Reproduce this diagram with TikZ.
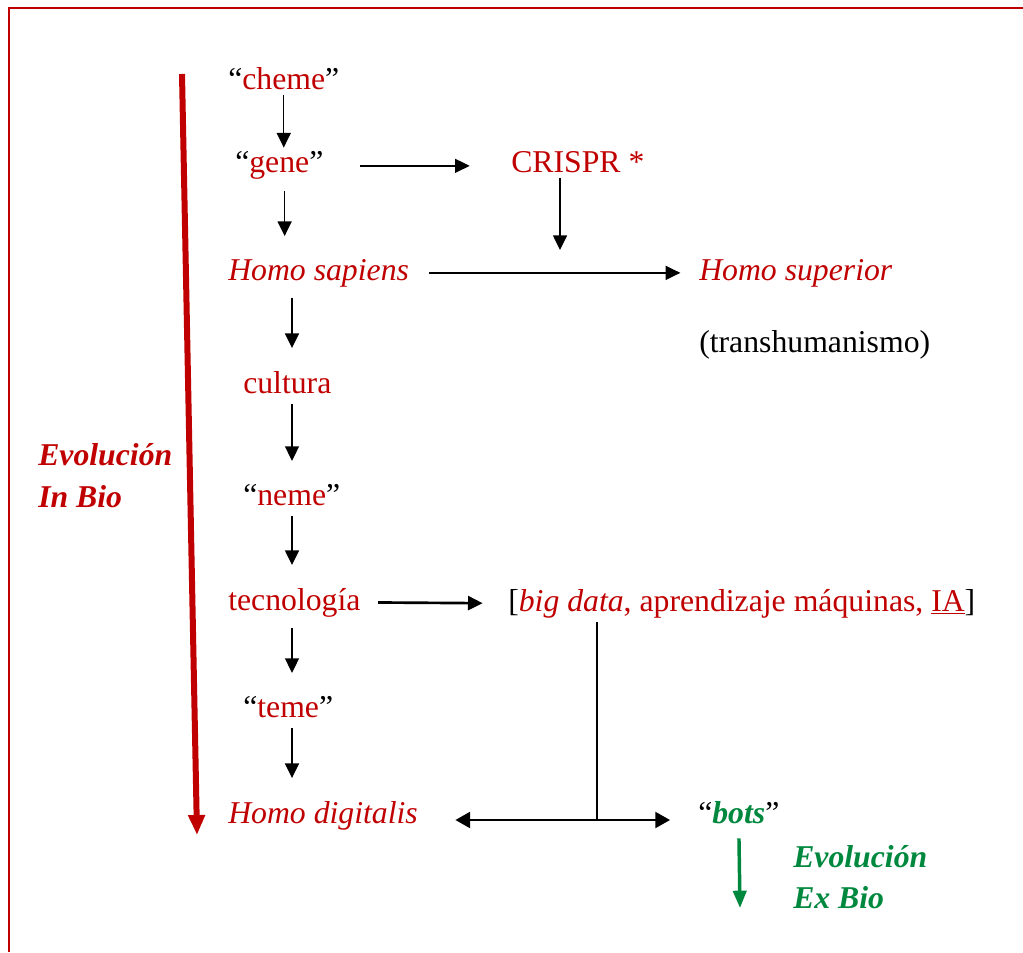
\documentclass[tikz,border=0pt]{standalone}
\usepackage{fontspec}
\setmainfont{Liberation Serif}
\usepackage{xcolor}
\usetikzlibrary{positioning,arrows.meta,calc}

\definecolor{inred}{RGB}{192,0,0}
\definecolor{exgreen}{RGB}{0,136,62}

\begin{document}
\begin{tikzpicture}[
		x=0.75pt,y=-0.75pt,
		every node/.style={
			inner sep=3pt,
			anchor=base west,
			font=\fontsize{23.8}{28}\selectfont
		},
		term/.style={text=inred},
		quoted/.style={text=black},
		evo/.style={font=\fontsize{23.8}{28}\selectfont\bfseries\itshape},
		arr/.style={-{Triangle[length=11pt,width=10.5pt]},line width=1.1pt},
		downarr/.style={arr,shorten <=5pt,shorten >=14pt},
		twoarr/.style={{Triangle[length=11pt,width=12pt]}-{Triangle[length=11pt,width=12pt]},line width=1.5pt}
		]
		
		\useasboundingbox (0,0) rectangle (1023,952);
		\draw[inred,line width=1.1pt] (9,952) -- (9,8) -- (1023,8);
		
		% main column
		\node[quoted] (cheme) at (224,90) {“\textcolor{inred}{cheme}”};
		\node[quoted] (gene) at (231,173) {“\textcolor{inred}{gene}”};
		\node[term] (sap) at (224,280) {\itshape Homo sapiens};
		\node[term] (cult) at (239,393) {cultura};
		\node[quoted] (neme) at (239,505) {“\textcolor{inred}{neme}”};
		\node[term] (tec) at (224,610) {tecnología};
		\node[quoted] (teme) at (239,717) {“\textcolor{inred}{teme}”};
		\node[term] (dig) at (224,823) {\itshape Homo digitalis};
		
		% right side
		\node[term] (crispr) at (507,173) {CRISPR *};
		\node[term] (sup) at (695,280) {\itshape Homo superior};
		\node (trans) at (695,352) {(transhumanismo)};
		\node[term] (bd) at (504,611)
		{\textcolor{black}{[}\textit{big data}, aprendizaje máquinas, \underline{IA}\textcolor{black}{]}};
		\node[quoted] (bots) at (694,823) {“\textcolor{exgreen}{\bfseries\itshape bots}”};
		
		% labels
		\node[evo,text=inred] (inbio) at (34,465) {Evolución};
		\node[evo,text=inred] (inbiob) at (34,507) {In Bio};
		\node[evo,text=exgreen] (exbio) at (789,867) {Evolución};
		\node[evo,text=exgreen] (exbiob) at (789,908) {Ex Bio};
		
		\coordinate (intop) at (182,74);
		\coordinate (inend) at (197,835);
		\coordinate (col) at (292,0);
		\coordinate (meet) at (560,250);
		\coordinate (fork) at (597,820);
		\coordinate (exend) at (740,908);
		
		\draw[inred,line width=4.5pt,-{Triangle[length=15pt,width=12pt]}] (intop)--(inend);
		\draw[exgreen,line width=2.6pt,-{Triangle[length=13pt,width=10pt]},shorten <=8pt] (bots.south)--(exend);
		
		\draw[arr] (cheme.south)--(gene.north -| cheme.south);
		\draw[downarr] ([xshift=4pt]gene.south)--([xshift=4pt]gene.south |- sap.north);
		\draw[downarr] (col |- sap.south)--(col |- cult.north);
		\draw[downarr] (col |- cult.south)--(col |- neme.north);
		\draw[downarr] (col |- neme.south)--(col |- tec.north);
		\draw[downarr] (col |- tec.south)--(col |- teme.north);
		\draw[downarr] (col |- teme.south)--(col |- dig.north);
		
		\draw[arr,shorten <=24pt,shorten >=28pt] (gene.east)--(crispr.west |- gene.east);
		\draw[arr] (crispr.south -| meet)--(meet);
		\draw[arr,shorten <=12pt,shorten >=11pt] (sap.east)--(sup.west);
		\draw[arr,line width=2pt,shorten <=10pt,shorten >=16pt] (tec.east)--(bd.west);
		\draw[line width=1.1pt] (bd.south -| fork)--(fork);
		\draw[twoarr,shorten <=25pt,shorten >=18pt] (dig.east |- fork)--(bots.west |- fork);
		
	\end{tikzpicture}
\end{document}
